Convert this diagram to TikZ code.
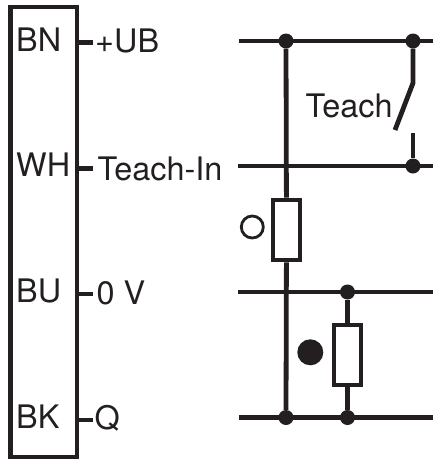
\documentclass[tikz,border=0pt]{standalone}
\usepackage{fontspec}
\setmainfont{TeX Gyre Heros}
\usetikzlibrary{positioning}
\definecolor{ink}{HTML}{231F20}

\begin{document}
\begin{tikzpicture}[x=1pt,y=-1pt,
    wire/.style={draw=ink, line width=4.8pt},
    lbl/.style={anchor=base west, inner sep=0pt, text=ink, font=\fontsize{32.4}{32.4}\selectfont},
    dot/.style={circle, fill=ink, inner sep=0pt, minimum size=15pt},
    res/.style={draw=ink, fill=white, line width=4.6pt, minimum width=27pt, minimum height=60pt}]
      \useasboundingbox (0,0) rectangle (433,459);

      % Sensor block with its pins
      \node[draw=ink, line width=4.6pt, minimum width=66.5pt, minimum height=450pt] (box) at (43.75,232) {};
      \foreach \n/\pin/\ys/\yb/\x/\yt/\txt in {ub/BN/42.7/51/95/52/+UB, ti/WH/168.3/176/97.5/180/Teach-In, gnd/BU/294/302/96.5/304/0 V, q/BK/420/428/94.5/429.5/Q} {
          \node[lbl] (pin\n) at (16,\yb) {\pin};
          \node[lbl] (sig\n) at (\x,\yt) {\txt};
          \coordinate (stub\n) at (93,\ys);
          \draw[wire] (stub\n -| box.east) -- (stub\n);
      }

      % Junctions
      \node[dot] (d1) at (286,41) {};
      \node[dot] (d2) at (413,41) {};
      \node[dot] (d3) at (413,166) {};
      \node[dot] (d4) at (347.5,292) {};
      \node[dot] (d5) at (286,417.5) {};
      \node[dot] (d6) at (347.5,417.5) {};

      % Rails
      \coordinate (rail1l) at (239,41);
      \coordinate (rail1r) at (433,41);
      \coordinate (rail2l) at (238,166);
      \coordinate (rail2r) at (433,166);
      \coordinate (rail3l) at (238,292);
      \coordinate (rail3r) at (433,292);
      \coordinate (rail4l) at (239,417.5);
      \coordinate (rail4r) at (433,417.5);
      \foreach \i in {1,2,3,4} {
          \draw[wire] (rail\i l) -- (rail\i r);
      }

      % Load resistors
      \node[res] (r1) at (286.5,230) {};
      \node[res] (r2) at (347.5,355) {};
      \draw[wire] (d1) -- (r1);
      \draw[wire] (r1) -- (d5);
      \draw[wire] (d4) -- (r2);
      \draw[wire] (r2) -- (d6);

      % Teach switch
      \coordinate (sw1) at (413,83);
      \coordinate (sw2) at (395,130);
      \coordinate (sw3) at (413,133);
      \draw[wire] (d2) -- (sw1) -- (sw2);
      \draw[wire] (sw3) -- (d3);
      \node[lbl] (teach) at (305.5,117) {Teach};

      % State markers
      \node[draw=ink, circle, line width=2.8pt, inner sep=0pt, minimum size=22pt] (off) at (252.3,227) {};
      \node[circle, fill=ink, inner sep=0pt, minimum size=26pt] (on) at (310.3,352.3) {};
    \end{tikzpicture}
\end{document}
